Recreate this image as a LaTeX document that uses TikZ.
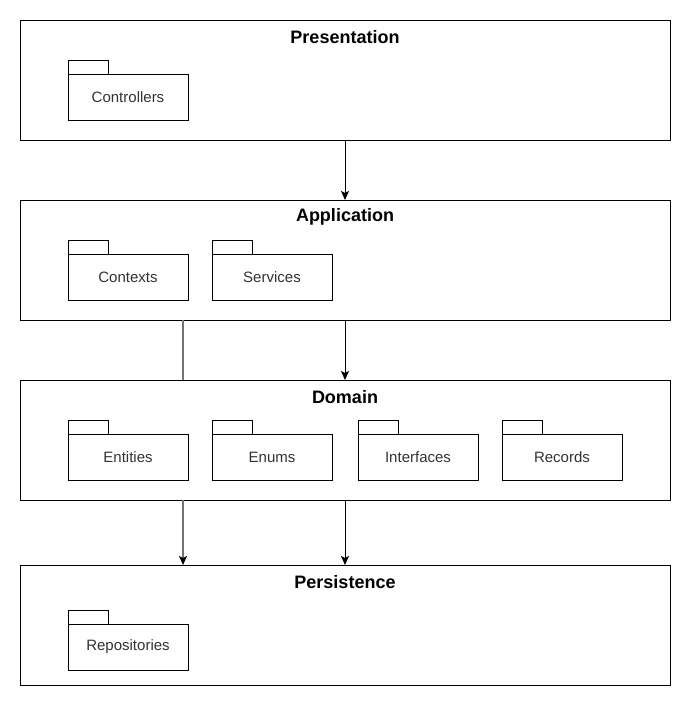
\documentclass[tikz,border=0pt]{standalone}
\usepackage{fontspec}
\setmainfont{Liberation Sans}
\usetikzlibrary{arrows.meta}
\begin{document}
\begin{tikzpicture}[x=1pt,y=-1pt,
  layer/.style={draw=black,line width=1pt,minimum width=650pt,minimum height=120pt,inner sep=0pt,outer sep=0pt},
  title/.style={font=\fontsize{18}{21}\selectfont\bfseries,text=black,inner sep=0pt},
  pkg/.style={draw=black,line width=1pt,minimum width=120pt,minimum height=46pt,inner sep=0pt,outer sep=0pt,
    font=\fontsize{15}{18}\selectfont,text=black!80},
  arr/.style={line width=1pt,-{Stealth[length=9pt,width=8pt,inset=2pt]}},
  side/.style={line width=1.3pt,draw=black!55},
  sidearr/.style={side,-{Stealth[length=9pt,width=8pt,inset=2pt,color=black]}}
]
\useasboundingbox (0,0) rectangle (700,720);
\fill[white] (0,0) rectangle (700,720);

% layers
\node[layer] (pres) at (345,80) {};
\node[layer] (app)  at (345,260) {};
\node[layer] (dom)  at (345,440) {};
\node[layer] (pers) at (345,625) {};

\node[title] (presT) at (345,37) {Presentation};
\node[title] (appT)  at (345,217) {Application};
\node[title] (domT)  at (345,397) {Domain};
\node[title] (persT) at (345,582) {Persistence};

% packages
\foreach \name/\x/\y/\txt in {ctrl/128/97/Controllers, ctx/128/277/Contexts, svc/272/277/Services,
  ent/128/457/Entities, enm/272/457/Enums, itf/418/457/Interfaces, rec/562/457/Records,
  repo/128/647/Repositories}{
  \node[pkg] (\name) at (\x,\y) {\txt};
  \draw[line width=1pt] (\name.north west) rectangle ++(40pt,14pt);
}

% dependencies
\draw[arr] (pres.south) -- (app.north);
\draw[arr] (app.south) -- (dom.north);
\draw[side] ([xshift=163pt]app.south west) -- ([xshift=163pt]dom.north west);
\draw[arr] (dom.south) -- (pers.north);
\draw[sidearr] ([xshift=163pt]dom.south west) -- ([xshift=163pt]pers.north west);
\end{tikzpicture}
\end{document}
